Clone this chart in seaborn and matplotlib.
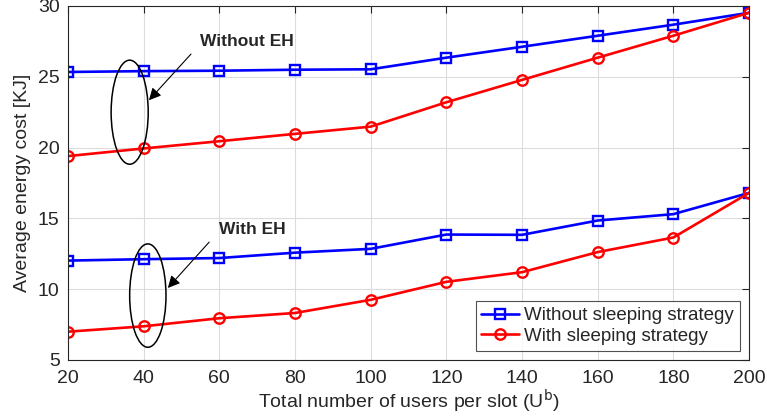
import numpy as np
import pandas as pd
import seaborn as sns
import matplotlib
matplotlib.use("Agg")
import matplotlib.pyplot as plt
from matplotlib.patches import Ellipse

users = [20, 40, 60, 80, 100, 120, 140, 160, 180, 200]

# Without energy harvesting
no_eh_no_sleep = [25.34, 25.40, 25.43, 25.50, 25.53, 26.35, 27.12, 27.90, 28.68, 29.52]
no_eh_sleep = [19.40, 19.94, 20.45, 20.97, 21.48, 23.20, 24.78, 26.35, 27.90, 29.52]
# With energy harvesting
eh_no_sleep = [12.02, 12.12, 12.20, 12.58, 12.85, 13.86, 13.84, 14.85, 15.30, 16.80]
eh_sleep = [7.00, 7.38, 7.95, 8.32, 9.25, 10.52, 11.20, 12.62, 13.65, 16.80]

series_labels = ["Without sleeping strategy", "With sleeping strategy"]
y_ticks = [5, 10, 15, 20, 25, 30]

sns.set_style("white")
plt.rcParams["font.family"] = ["Liberation Sans", "DejaVu Sans"]

fig = plt.figure(figsize=(7.67, 4.17), dpi=100)
ax = fig.add_axes([68 / 767, 1 - 360 / 417, 681 / 767, 354 / 417])

groups = [
    (no_eh_no_sleep, series_labels[0], "EH off"),
    (no_eh_sleep, series_labels[1], "EH off"),
    (eh_no_sleep, series_labels[0], "EH on"),
    (eh_sleep, series_labels[1], "EH on"),
]
frames = []
for vals, strat, eh in groups:
    frames.append(pd.DataFrame({"users": users, "cost": vals, "strategy": strat, "eh": eh}))
df = pd.concat(frames, ignore_index=True)

styles = {series_labels[0]: ("#0000ff", "s"), series_labels[1]: ("#ff0000", "o")}
for eh in ["EH off", "EH on"]:
    for strat in series_labels:
        color, marker = styles[strat]
        sub = df[(df["eh"] == eh) & (df["strategy"] == strat)]
        sns.lineplot(data=sub, x="users", y="cost", ax=ax, color=color, marker=marker,
                     markersize=7.5 if marker == "o" else 6.5, markerfacecolor="none",
                     markeredgecolor=color, markeredgewidth=1.7, linewidth=1.9,
                     label=strat if eh == "EH off" else None, legend=False)

ax.set_xlim(20, 200)
ax.set_ylim(5, 30)
ax.set_xticks(users)
ax.set_yticks(y_ticks)
ax.grid(True, color="#dcdcdc", linewidth=0.8)
ax.set_axisbelow(True)
edge = "#262626"
for s in ax.spines.values():
    s.set_color(edge)
    s.set_linewidth(0.8)
ax.tick_params(direction="in", length=5, width=0.8, colors=edge, labelsize=14,
               top=True, right=True, labelcolor="#262626")
ax.tick_params(axis="x", pad=7)
ax.tick_params(axis="y", pad=6)
ax.set_xlabel("Total number of users per slot (U$^{\\mathrm{b}}$)", fontsize=14, color="#262626", labelpad=0.5)
ax.set_ylabel("Average energy cost [KJ]", fontsize=14, color="#262626", labelpad=5)

# Group markers: ellipses with arrows and labels
ax.add_patch(Ellipse((36.3, 22.5), 9.8, 7.35, fill=False, edgecolor="black", linewidth=1.1, zorder=5))
ax.add_patch(Ellipse((41.1, 9.55), 9.6, 7.3, fill=False, edgecolor="black", linewidth=1.1, zorder=5))
ax.annotate("", xy=(40.9, 23.2), xytext=(53.0, 26.75),
            arrowprops=dict(arrowstyle="-|>", color="black", lw=0.8, mutation_scale=18))
ax.annotate("", xy=(45.9, 9.94), xytext=(57.8, 13.47),
            arrowprops=dict(arrowstyle="-|>", color="black", lw=0.8, mutation_scale=18))
ax.text(54.9, 27.46, "Without EH", fontsize=12.5, fontweight="bold", va="center", ha="left")
ax.text(59.9, 14.25, "With EH", fontsize=12.5, fontweight="bold", va="center", ha="left")

leg = ax.legend(loc="lower right", fontsize=13.5, frameon=True, fancybox=False,
                edgecolor=edge, borderpad=0.3, handlelength=2.0, handletextpad=0.3,
                labelspacing=0.2, borderaxespad=0.5)
leg.get_frame().set_linewidth(0.8)

fig.savefig("out.png", dpi=100)
